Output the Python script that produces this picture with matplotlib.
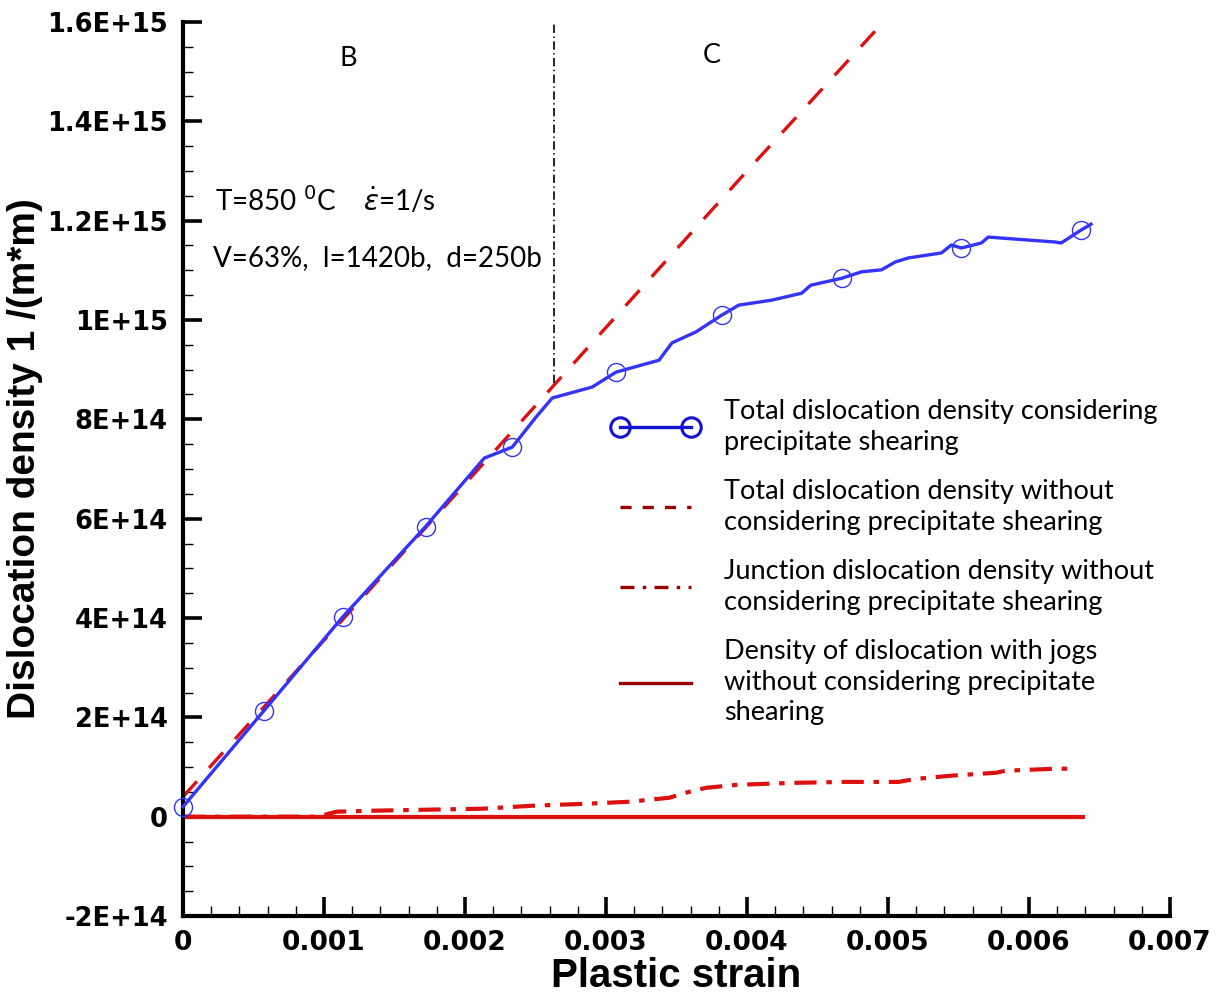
import matplotlib
matplotlib.use("Agg")
import matplotlib.pyplot as plt
from matplotlib.lines import Line2D
from matplotlib.ticker import MultipleLocator, FixedLocator, FixedFormatter

plt.rcParams['lines.scale_dashes'] = False

# ---- data -------------------------------------------------------------
# total dislocation density with precipitate shearing
strain_shear = [0.0, 0.000573, 0.001132, 0.00172, 0.002137, 0.002335, 0.002505,
                0.002619, 0.002902, 0.003071, 0.003376, 0.003468, 0.003638,
                0.003822, 0.003942, 0.004176, 0.004388, 0.004452, 0.004671,
                0.004812, 0.004954, 0.005053, 0.005145, 0.005379, 0.005449,
                0.00552, 0.005662, 0.005711, 0.005803, 0.006186, 0.006228,
                0.006369, 0.00644]
rho_shear = [2.0e13, 2.13e14, 4.02e14, 5.84e14, 7.22e14, 7.44e14, 8.05e14,
             8.43e14, 8.65e14, 8.95e14, 9.19e14, 9.54e14, 9.76e14,
             1.010e15, 1.030e15, 1.040e15, 1.054e15, 1.070e15, 1.084e15,
             1.097e15, 1.101e15, 1.117e15, 1.125e15, 1.135e15, 1.151e15,
             1.145e15, 1.155e15, 1.167e15, 1.165e15, 1.157e15, 1.155e15,
             1.181e15, 1.193e15]
marker_idx = [0, 1, 2, 3, 5, 9, 13, 18, 25, 31]

# total dislocation density without shearing
strain_total = [0.0, 0.001, 0.002, 0.003, 0.004, 0.005, 0.0052]
rho_total = [4.0e13, 3.55e14, 6.70e14, 9.85e14, 1.30e15, 1.61e15, 1.67e15]

# junction dislocation density without shearing
strain_junc = [0.0, 0.00095, 0.00109, 0.001345, 0.001727, 0.002123, 0.002477,
               0.002859, 0.003163, 0.003447, 0.003588, 0.003708, 0.003921,
               0.004317, 0.004699, 0.005074, 0.005195, 0.005449, 0.005768,
               0.005832, 0.006193, 0.006313]
rho_junc = [0.0, 0.0, 1.0e13, 1.2e13, 1.4e13, 1.6e13, 2.2e13,
            2.6e13, 3.0e13, 3.8e13, 5.0e13, 5.8e13, 6.4e13,
            6.8e13, 7.0e13, 7.0e13, 7.6e13, 8.25e13, 8.85e13,
            9.25e13, 9.66e13, 9.66e13]

# density of dislocations with jogs
strain_jog = [0.0, 0.0064]
rho_jog = [0.0, 0.0]

# boundary between stages B and C
stage_bc = 0.002633
stage_bc_range = [8.73e14, 1.6e15]

xticks = [0, 0.001, 0.002, 0.003, 0.004, 0.005, 0.006, 0.007]
xticklabels = ["0", "0.001", "0.002", "0.003", "0.004", "0.005", "0.006", "0.007"]
yticks = [-2e14, 0, 2e14, 4e14, 6e14, 8e14, 1e15, 1.2e15, 1.4e15, 1.6e15]
yticklabels = ["-2E+14", "0", "2E+14", "4E+14", "6E+14", "8E+14", "1E+15",
               "1.2E+15", "1.4E+15", "1.6E+15"]

legend_labels = [
    "Total dislocation density considering\nprecipitate shearing",
    "Total dislocation density without\nconsidering precipitate shearing",
    "Junction dislocation density without\nconsidering precipitate shearing",
    "Density of dislocation with jogs\nwithout considering precipitate\nshearing",
]

# ---- figure -----------------------------------------------------------
W, H = 1222, 1001
fig = plt.figure(figsize=(W / 100, H / 100), dpi=100)
ax = fig.add_axes([183 / W, 1 - 916 / H, (1170 - 183) / W, (916 - 22) / H])

blue = '#3333fa'
red = '#dd1010'
dark_red = '#9a0000'
text_font = ['Lato', 'DejaVu Sans']

ax.plot(strain_jog, rho_jog, color=red, lw=3.0, solid_capstyle='butt', zorder=2)
ax.plot(strain_junc, rho_junc, color=red, lw=3.0, dashes=[16, 7, 4, 7],
        dash_capstyle='butt', zorder=2)
ax.plot(strain_total, rho_total, color=red, lw=2.4, dashes=[15, 13],
        dash_capstyle='butt', zorder=2)
ax.plot(strain_shear, rho_shear, color=blue, lw=2.4, marker='o', ms=13,
        mfc='none', mec=blue, mew=1.0, markevery=marker_idx, clip_on=False,
        zorder=3)
ax.plot([stage_bc, stage_bc], stage_bc_range, color='black', lw=1.2,
        dashes=[6, 2.5, 1, 2.5], zorder=2)

ax.set_xlim(0, 0.007)
ax.set_ylim(-2e14, 1.6e15)

for side in ('top', 'right'):
    ax.spines[side].set_visible(False)
for side in ('left', 'bottom'):
    ax.spines[side].set_linewidth(3.0)

ax.xaxis.set_major_locator(FixedLocator(xticks))
ax.xaxis.set_major_formatter(FixedFormatter(xticklabels))
ax.xaxis.set_minor_locator(MultipleLocator(0.0002))
ax.yaxis.set_major_locator(FixedLocator(yticks))
ax.yaxis.set_major_formatter(FixedFormatter(yticklabels))
ax.yaxis.set_minor_locator(MultipleLocator(5e13))

ax.tick_params(which='major', direction='in', length=14, width=2.6,
               labelsize=19, pad=10)
ax.tick_params(axis='y', which='major', labelsize=18.5, pad=11)
ax.tick_params(which='minor', direction='in', length=7.5, width=1.0)
for lab in ax.get_xticklabels() + ax.get_yticklabels():
    lab.set_fontweight('bold')
    lab.set_family('DejaVu Sans')

# axis titles
fig.text(676 / W, 1 - 976 / H, "Plastic strain", ha='center', va='center',
         fontsize=29, fontweight='bold', family='Liberation Sans')
fig.text(25 / W, 1 - 459 / H, "Dislocation density 1 /(m*m)", ha='center',
         va='center', rotation=90, fontsize=28, fontweight='bold',
         family='Liberation Sans')

# annotations
ax.text(0.00117, 1.527e15, "B", ha='center', va='center', fontsize=19.5,
        family=text_font)
ax.text(0.00375, 1.533e15, "C", ha='center', va='center', fontsize=19.5,
        family=text_font)
ax.text(0.000227, 1.241e15, r"T=850 $^{0}$C    $\dot{\varepsilon}$=1/s",
        ha='left', va='center', fontsize=20, family=text_font)
ax.text(0.000213, 1.125e15, "V=63%,  l=1420b,  d=250b", ha='left',
        va='center', fontsize=20, family=text_font)

# legend
handles = [
    Line2D([], [], color='#1414d0', lw=2.4, marker='o', ms=14, mfc='none',
           mec='#1414d0', mew=2.2),
    Line2D([], [], color=dark_red, lw=2.4, dashes=[8, 8], dash_capstyle='butt'),
    Line2D([], [], color=dark_red, lw=2.4, dashes=[10, 6, 2.5, 6],
           dash_capstyle='butt'),
    Line2D([], [], color=dark_red, lw=2.4),
]
leg = fig.legend(handles, legend_labels, loc='upper left',
                 bbox_to_anchor=(612 / W, 1 - 399 / H), frameon=False,
                 borderpad=0, borderaxespad=0, handlelength=3.2,
                 handletextpad=0.95, labelspacing=0.9, numpoints=2,
                 prop={'family': text_font, 'size': 19.5})
for t in leg.get_texts():
    t.set_linespacing(1.28)

fig.savefig("out.png", dpi=100)
